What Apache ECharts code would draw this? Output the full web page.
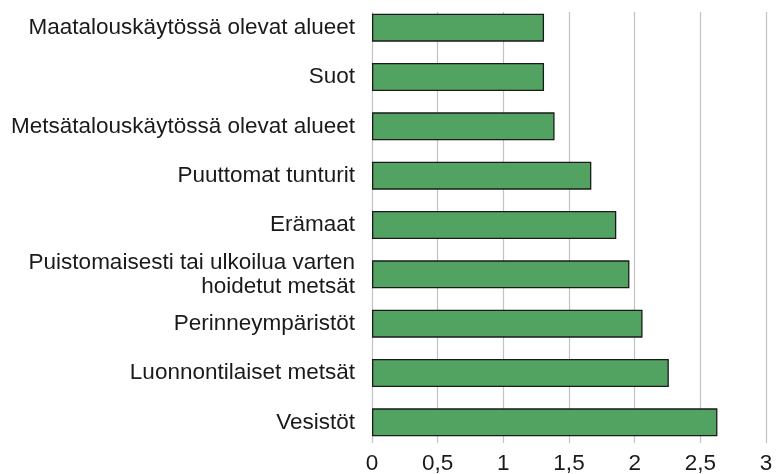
<!DOCTYPE html>
<html>
<head>
<meta charset="utf-8">
<script src="https://cdn.jsdelivr.net/npm/echarts@6/dist/echarts.min.js"></script>
<style>html,body{margin:0;padding:0;background:#fff}#c{width:782px;height:474px}</style>
</head>
<body>
<div id="c"></div>
<script>
const categories = [
  'Maatalouskäytössä olevat alueet',
  'Suot',
  'Metsätalouskäytössä olevat alueet',
  'Puuttomat tunturit',
  'Erämaat',
  'Puistomaisesti tai ulkoilua varten\nhoidetut metsät',
  'Perinneympäristöt',
  'Luonnontilaiset metsät',
  'Vesistöt'
];
const values = [1.31, 1.31, 1.39, 1.67, 1.86, 1.96, 2.06, 2.26, 2.63];
const xTickLabels = ['0', '0,5', '1', '1,5', '2', '2,5', '3'];

const FONT = 'Liberation Sans, Arial, Helvetica, sans-serif';
const chart = echarts.init(document.getElementById('c'), null, {renderer: 'canvas'});
chart.setOption({
  animation: false,
  backgroundColor: '#ffffff',
  grid: [
    {left: 372, right: 16, top: 3, bottom: 27, containLabel: false, outerBoundsMode: 'none'},
    {left: 372, right: 16, top: 12, bottom: 31, containLabel: false, outerBoundsMode: 'none'}
  ],
  xAxis: [
    {
      type: 'value', gridIndex: 0, min: 0, max: 3, interval: 0.5,
      axisLine: {show: false}, axisTick: {show: false},
      splitLine: {show: false},
      axisLabel: {
        color: '#1a1a1a', fontSize: 22.5, fontFamily: FONT, margin: 5,
        formatter: function (v) { return xTickLabels[Math.round(v / 0.5)]; }
      }
    },
    {
      type: 'value', gridIndex: 1, min: 0, max: 3, interval: 0.5,
      axisLine: {show: false}, axisTick: {show: false}, axisLabel: {show: false},
      splitLine: {show: true, lineStyle: {color: '#c2c2c2', width: 1.2}}
    }
  ],
  yAxis: [
    {
      type: 'category', gridIndex: 0, data: categories, inverse: true,
      axisLine: {show: false}, axisTick: {show: false},
      axisLabel: {
        color: '#1a1a1a', fontSize: 22.5, fontFamily: FONT, margin: 17,
        lineHeight: 24, align: 'right'
      }
    },
    {
      type: 'category', gridIndex: 1, data: categories, inverse: true, show: false
    }
  ],
  series: [{
    type: 'bar', xAxisIndex: 0, yAxisIndex: 0, data: values, barWidth: 28,
    itemStyle: {color: '#52a362', borderColor: '#1a1a1a', borderWidth: 1.3},
    z: 3
  }]
});
</script>
</body>
</html>
